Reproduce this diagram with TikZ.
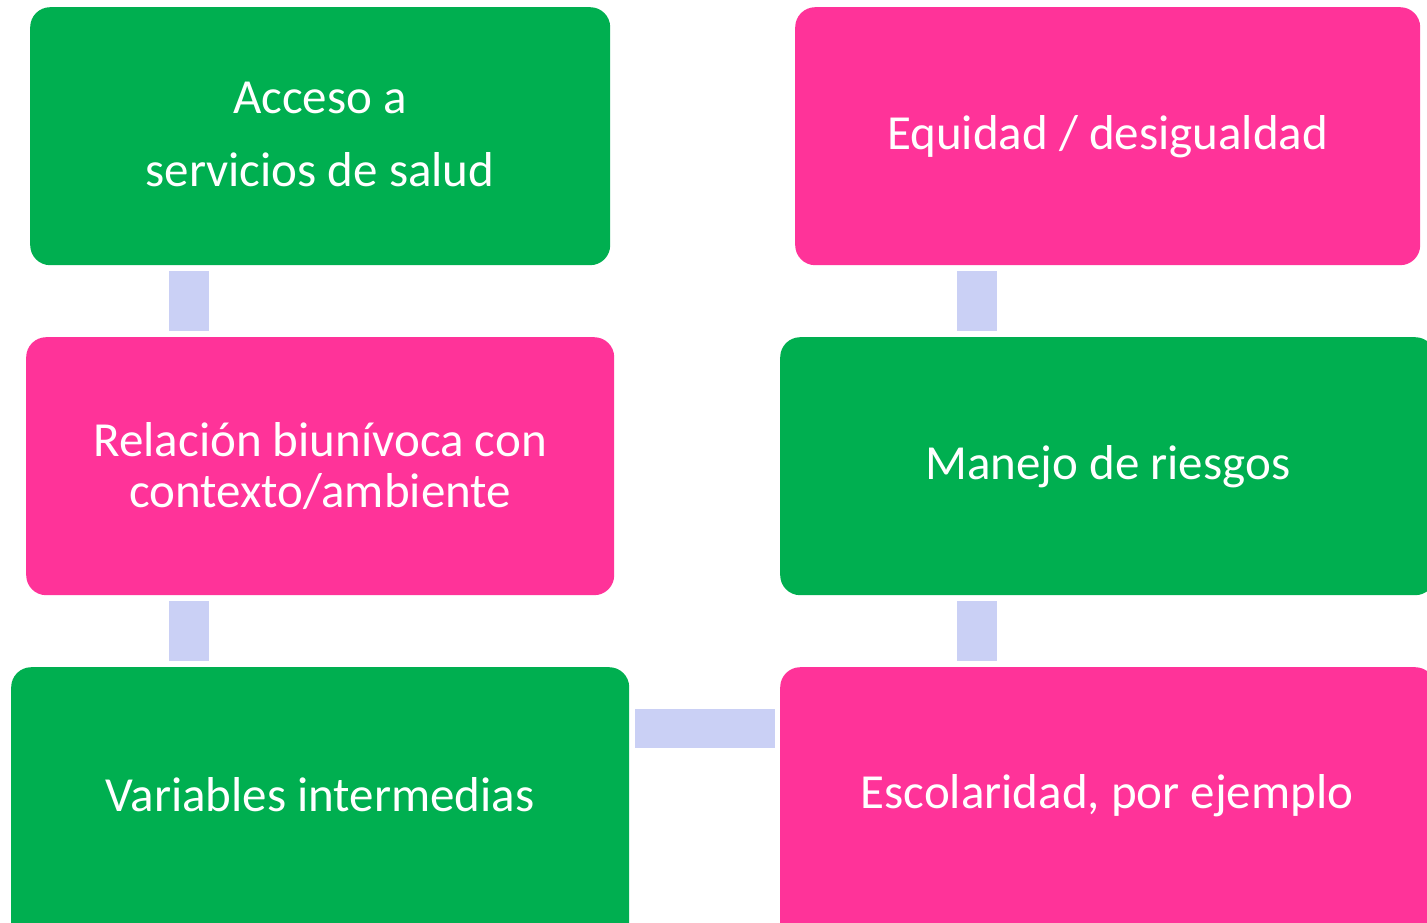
\documentclass[tikz,border=0pt]{standalone}
\usepackage{fontspec}
\setmainfont{Carlito}
\definecolor{gbox}{HTML}{00AF50}
\definecolor{pbox}{HTML}{FF3399}
\definecolor{cline}{HTML}{CAD0F5}
\tikzset{
  boxfont/.style={font=\fontsize{49}{51}\selectfont},
  boxbase/.style={rounded corners=20pt, inner sep=0pt, text=white, align=center, boxfont, anchor=north west},
  gbx/.style={boxbase, fill=gbox},
  pbx/.style={boxbase, fill=pbox},
  lbl/.style={boxfont, text=white},
  conn/.style={cline, line width=40pt},
  hconn/.style={cline, line width=39pt}
}
\begin{document}
\begin{tikzpicture}[x=1pt,y=-1pt]
\useasboundingbox (0,0) rectangle (1427,923);
\clip (0,0) rectangle (1427,923);
\node[gbx, minimum width=580pt, minimum height=258pt] (b1) at (30,7) {};
\node[lbl] (t1a) at (320,98) {Acceso a};
\node[lbl] (t1b) at (320,170) {servicios de salud};
\node[pbx, minimum width=625pt, minimum height=258pt] (b2) at (795,7) {Equidad / desigualdad};
\node[pbx, minimum width=588pt, minimum height=258pt] (b3) at (26,337) {Relación biunívoca con\\contexto/ambiente};
\node[gbx, minimum width=655pt, minimum height=258pt] (b4) at (780,337) {Manejo de riesgos};
\node[gbx, minimum width=618pt, minimum height=280pt] (b5) at (11,667) {};
\node[lbl] (t5) at (320,795) {Variables intermedias};
\node[pbx, minimum width=655pt, minimum height=280pt] (b6) at (780,667) {};
\node[lbl] (t6) at (1107,796) {Escolaridad, por ejemplo};
\draw[conn] ([xshift=-131pt,yshift=-6pt]b1.south) -- ([xshift=-131pt,yshift=6pt]b3.north);
\draw[conn] ([xshift=-131pt,yshift=-6pt]b3.south) -- ([xshift=-131pt,yshift=6pt]b5.north);
\draw[conn] ([xshift=-130.5pt,yshift=-6pt]b2.south) -- ([xshift=-130.5pt,yshift=6pt]b4.north);
\draw[conn] ([xshift=-130.5pt,yshift=-6pt]b4.south) -- ([xshift=-130.5pt,yshift=6pt]b6.north);
\draw[hconn] ([xshift=6pt,yshift=-61.5pt]b5.north east) -- ([xshift=-5pt,yshift=-61.5pt]b6.north west);
\end{tikzpicture}
\end{document}
